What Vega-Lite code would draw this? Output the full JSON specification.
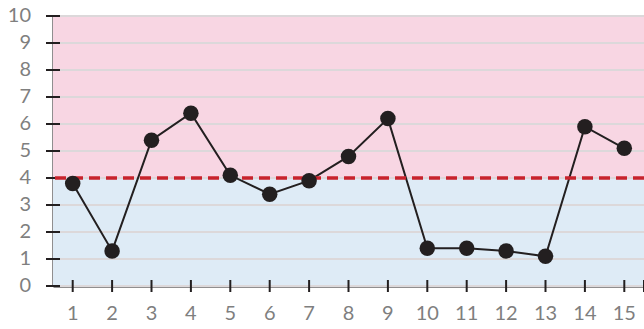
{
  "$schema": "https://vega.github.io/schema/vega-lite/v6.json",
  "width": 591,
  "height": 270,
  "autosize": {"type": "none"},
  "padding": {"left": 53, "top": 16, "right": 0, "bottom": 43},
  "background": "white",
  "config": {
    "view": {"stroke": null},
    "axis": {"labels": false, "ticks": false, "grid": false, "domainColor": "#231f20", "domainWidth": 2, "title": null, "zindex": 1}
  },
  "datasets": {
    "bands": [
      {"lo": 4, "hi": 10, "zone": "above"},
      {"lo": 0, "hi": 4, "zone": "below"}
    ],
    "xt": [{"n": 1}, {"n": 2}, {"n": 3}, {"n": 4}, {"n": 5}, {"n": 6}, {"n": 7}, {"n": 8}, {"n": 9}, {"n": 10}, {"n": 11}, {"n": 12}, {"n": 13}, {"n": 14}, {"n": 15}, {"n": 15.5}],
    "yt": [{"v": 0}, {"v": 1}, {"v": 2}, {"v": 3}, {"v": 4}, {"v": 5}, {"v": 6}, {"v": 7}, {"v": 8}, {"v": 9}, {"v": 10}],
    "pts": [
      {"n": 1, "v": 3.8}, {"n": 2, "v": 1.3}, {"n": 3, "v": 5.4}, {"n": 4, "v": 6.4},
      {"n": 5, "v": 4.1}, {"n": 6, "v": 3.4}, {"n": 7, "v": 3.9}, {"n": 8, "v": 4.8},
      {"n": 9, "v": 6.2}, {"n": 10, "v": 1.4}, {"n": 11, "v": 1.4}, {"n": 12, "v": 1.3},
      {"n": 13, "v": 1.1}, {"n": 14, "v": 5.9}, {"n": 15, "v": 5.1}
    ]
  },
  "layer": [
    {
      "data": {"name": "bands"},
      "mark": {"type": "rect"},
      "encoding": {
        "y": {"field": "lo", "type": "quantitative", "scale": {"domain": [0, 10], "nice": false}},
        "y2": {"field": "hi"},
        "color": {"field": "zone", "type": "nominal", "scale": {"domain": ["above", "below"], "range": ["#f8d6e3", "#deebf6"]}, "legend": null}
      }
    },
    {
      "data": {"name": "yt"},
      "mark": {"type": "rule", "color": "#dcd8da", "strokeWidth": 2},
      "encoding": {"y": {"field": "v", "type": "quantitative"}}
    },
    {
      "data": {"name": "pts"},
      "mark": {"type": "line", "color": "#231f20", "strokeWidth": 2},
      "encoding": {
        "x": {"field": "n", "type": "quantitative", "scale": {"domain": [0.5, 15.5], "nice": false}},
        "y": {"field": "v", "type": "quantitative"}
      }
    },
    {
      "data": {"name": "xt"},
      "mark": {"type": "tick", "orient": "vertical", "color": "#231f20", "size": 12, "thickness": 2, "opacity": 1},
      "encoding": {
        "x": {"field": "n", "type": "quantitative"},
        "y": {"datum": 0}
      }
    },
    {
      "data": {"name": "yt"},
      "mark": {"type": "tick", "orient": "horizontal", "color": "#231f20", "size": 14, "thickness": 2, "opacity": 1},
      "encoding": {
        "y": {"field": "v", "type": "quantitative"},
        "x": {"datum": 0.5}
      }
    },
    {
      "data": {"name": "xt"},
      "transform": [{"filter": "datum.n <= 15"}],
      "mark": {"type": "text", "font": "Lato", "fontSize": 20, "color": "#7f7f7f", "align": "center", "baseline": "middle", "dy": 28},
      "encoding": {
        "x": {"field": "n", "type": "quantitative"},
        "y": {"datum": 0},
        "text": {"field": "n", "type": "quantitative"}
      }
    },
    {
      "data": {"name": "yt"},
      "mark": {"type": "text", "font": "Lato", "fontSize": 20, "color": "#7f7f7f", "align": "right", "baseline": "middle", "dx": -22},
      "encoding": {
        "y": {"field": "v", "type": "quantitative"},
        "x": {"datum": 0.5},
        "text": {"field": "v", "type": "quantitative"}
      }
    },
    {
      "data": {"values": [{"t": 4}]},
      "mark": {"type": "rule", "color": "#c8232c", "strokeDash": [11, 6]},
      "encoding": {"y": {"field": "t", "type": "quantitative"}, "size": {"value": 3.5}}
    },
    {
      "data": {"name": "pts"},
      "mark": {"type": "point", "filled": true, "color": "#231f20", "size": 240, "opacity": 1},
      "encoding": {
        "x": {"field": "n", "type": "quantitative"},
        "y": {"field": "v", "type": "quantitative"}
      }
    }
  ]
}
